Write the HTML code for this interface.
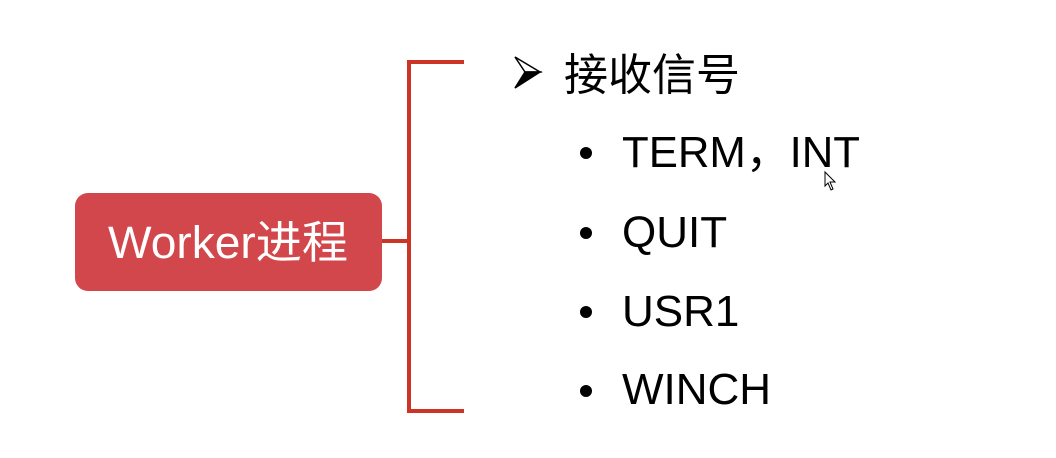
<!DOCTYPE html>
<html><head><meta charset="utf-8"><style>
html,body{margin:0;padding:0;background:#fff;width:1056px;height:458px;overflow:hidden}
</style></head><body>
<svg width="1056" height="458" xmlns="http://www.w3.org/2000/svg">
<rect width="1056" height="458" fill="#fff"/>
<rect x="75" y="193" width="307" height="98" rx="13" fill="#d2474b"/>
<text x="108" y="258" font-family="Liberation Sans, Noto Sans CJK SC, sans-serif" font-size="45" fill="#fff" textLength="240" lengthAdjust="spacingAndGlyphs">Worker进程</text>
<g stroke="#cc3526" stroke-width="4" fill="none">
<line x1="382" y1="241" x2="409" y2="241"/>
<line x1="409" y1="60" x2="409" y2="412"/>
<line x1="407" y1="62" x2="464" y2="62"/>
<line x1="407" y1="411" x2="464" y2="411"/>
</g>
<polygon points="515,57 540,72 525,72" fill="#fff" stroke="#000" stroke-width="1.5"/>
<polygon points="515,88 540,72 525,72" fill="#000" stroke="#000" stroke-width="1.5"/>
<g font-family="Liberation Sans, Noto Sans CJK SC, sans-serif" font-size="44" fill="#000">
<text x="564" y="90">接收信号</text>
<text x="622" y="167" textLength="238" lengthAdjust="spacingAndGlyphs">TERM，INT</text>
<text x="622" y="247">QUIT</text>
<text x="622" y="326">USR1</text>
<text x="622" y="404">WINCH</text>
</g>
<g fill="#000">
<circle cx="586" cy="153" r="6"/>
<circle cx="586" cy="233" r="6"/>
<circle cx="586" cy="312" r="6"/>
<circle cx="586" cy="391" r="6"/>
</g>
<path d="M825,172 L825,186 L828,183 L831,190 L833,189 L830,182 L835,182 Z" fill="#fff" stroke="#000" stroke-width="1"/>
</svg>
</body></html>
